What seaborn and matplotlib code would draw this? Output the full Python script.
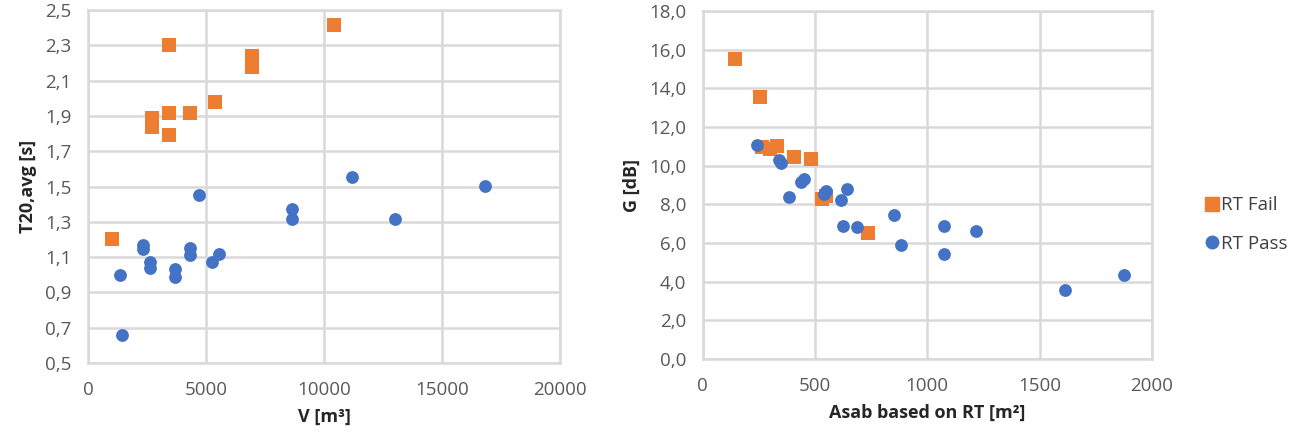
import numpy as np
import pandas as pd
import seaborn as sns
import matplotlib.pyplot as plt
from matplotlib.lines import Line2D
from matplotlib.ticker import FuncFormatter

# left panel: volume vs T20
fail_v = [1000, 3430, 6950, 6950, 5380, 2710, 2710, 3430, 4320, 3430, 10420]
fail_t20 = [1.20, 2.30, 2.24, 2.18, 1.98, 1.89, 1.84, 1.915, 1.915, 1.795, 2.415]
pass_v = [4700, 8640, 8640, 1360, 1440, 2330, 2330, 2630, 2630, 3690, 3690,
          4320, 4320, 5250, 5550, 11190, 13010, 16820]
pass_t20 = [1.45, 1.37, 1.315, 1.0, 0.66, 1.17, 1.145, 1.075, 1.04, 1.035, 0.985,
            1.15, 1.11, 1.07, 1.12, 1.555, 1.315, 1.505]

# right panel: absorption area vs G
fail_a = [143, 254, 263, 300, 330, 405, 481, 530, 550, 735]
fail_g = [15.5, 13.55, 10.95, 10.85, 11.0, 10.45, 10.35, 8.3, 8.45, 6.52]
pass_a = [240, 339, 347, 383, 437, 450, 540, 548, 615, 641, 624, 686, 851, 882,
          1073, 1073, 1216, 1612, 1875]
pass_g = [11.07, 10.3, 10.15, 8.38, 9.15, 9.3, 8.55, 8.7, 8.22, 8.79, 6.88, 6.83,
          7.45, 5.9, 6.88, 5.43, 6.62, 3.57, 4.34]

v_ticks = [0, 5000, 10000, 15000, 20000]
t20_ticks = [0.5, 0.7, 0.9, 1.1, 1.3, 1.5, 1.7, 1.9, 2.1, 2.3, 2.5]
a_ticks = [0, 500, 1000, 1500, 2000]
g_ticks = [0, 2, 4, 6, 8, 10, 12, 14, 16, 18]

orange = '#ED7D31'
blue = '#4472C4'
grid_c = '#D9D9D9'
tick_c = '#595959'
label_c = '#262626'

sns.set_style('white')
plt.rcParams['font.family'] = ['Open Sans', 'DejaVu Sans']

fig = plt.figure(figsize=(12.99, 4.4), dpi=100)
ax1 = fig.add_axes([0.0677, 0.175, 0.3634, 0.802])
ax2 = fig.add_axes([0.541, 0.184, 0.3457, 0.791])

left_fail = pd.DataFrame({'V': fail_v, 'T20': fail_t20})
left_pass = pd.DataFrame({'V': pass_v, 'T20': pass_t20})
right_fail = pd.DataFrame({'A': fail_a, 'G': fail_g})
right_pass = pd.DataFrame({'A': pass_a, 'G': pass_g})

sns.scatterplot(data=left_fail, x='V', y='T20', ax=ax1, marker='s', s=110,
                color=orange, linewidth=0, zorder=3)
sns.scatterplot(data=left_pass, x='V', y='T20', ax=ax1, marker='o', s=85,
                color=blue, linewidth=0, zorder=3)
sns.scatterplot(data=right_fail, x='A', y='G', ax=ax2, marker='s', s=110,
                color=orange, linewidth=0, zorder=3)
sns.scatterplot(data=right_pass, x='A', y='G', ax=ax2, marker='o', s=85,
                color=blue, linewidth=0, zorder=3)

comma1 = FuncFormatter(lambda v, p: f'{v:.1f}'.replace('.', ','))

ax1.set_xlim(0, 20000)
ax1.set_ylim(0.5, 2.5)
ax1.set_xticks(v_ticks)
ax1.set_yticks(t20_ticks)
ax1.yaxis.set_major_formatter(comma1)
ax1.set_xlabel('V [m³]', fontsize=13, fontweight='bold', color=label_c)
ax1.set_ylabel('T20,avg [s]', fontsize=13, fontweight='bold', color=label_c)

ax2.set_xlim(0, 2000)
ax2.set_ylim(0, 18)
ax2.set_xticks(a_ticks)
ax2.set_yticks(g_ticks)
ax2.yaxis.set_major_formatter(comma1)
ax2.set_xlabel('Asab based on RT [m²]', fontsize=13, fontweight='bold', color=label_c)
ax2.set_ylabel('G [dB]', fontsize=13, fontweight='bold', color=label_c)

for ax in (ax1, ax2):
    ax.grid(True, color=grid_c, linewidth=1.8)
    ax.set_axisbelow(True)
    for sp in ax.spines.values():
        sp.set_color(grid_c)
        sp.set_linewidth(1.8)
    ax.tick_params(labelsize=13.5, colors=tick_c, length=0)
    ax.tick_params(axis='x', pad=13)
    ax.tick_params(axis='y', pad=12)
    ax.xaxis.labelpad = 6
    ax.yaxis.labelpad = 6

handles = [
    Line2D([], [], marker='s', color=orange, linestyle='', markersize=10),
    Line2D([], [], marker='o', color=blue, linestyle='', markersize=9),
]
leg = fig.legend(handles, ['RT Fail', 'RT Pass'], loc='center left',
                 bbox_to_anchor=(0.921, 0.49), frameon=False, fontsize=13.5,
                 handletextpad=0.0, labelspacing=1.1, handlelength=0.9,
                 borderaxespad=0.0)
for t in leg.get_texts():
    t.set_color('#404040')

fig.savefig('out.png', dpi=100)
